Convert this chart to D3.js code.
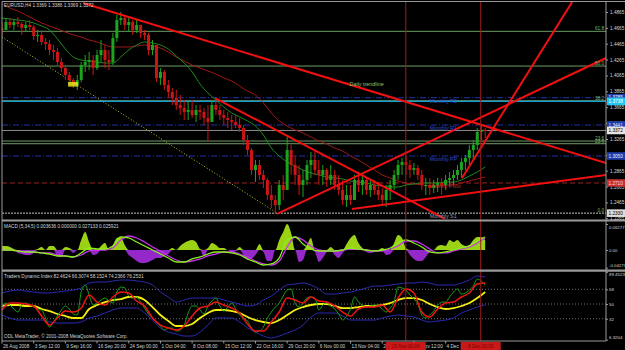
<!DOCTYPE html>
<html>
<head>
<meta charset="utf-8">
<script src="https://cdnjs.cloudflare.com/ajax/libs/d3/7.8.5/d3.min.js"></script>
<style>
  body { margin: 0; background: #000; }
  svg text { font-family: "Liberation Sans", Arial, sans-serif; font-size: 4.7px; }
</style>
</head>
<body>
<svg id="chart" width="625" height="350"></svg>
<script>
// ---- data ----
const symbolTitle = "EURUSD,H4 1.3369 1.3386 1.3369 1.3372";
const macdTitle = "MACD (5,34,5) 0.003636 0.000000 0.027133 0.025921";
const tdiTitle = "Traders Dynamic Index 82.4624 66.3074 58.1524 74.2366 76.2531";
const copyright = "ODL MetaTrader, \u00a9 2001-2008 MetaQuotes Software Corp.";

// time axis (H4 bar numbers)
const timeBars = [0, 32, 64, 96, 128, 160, 192, 224, 256, 288, 320, 352, 384, 416, 448];
const timeLabels = ["26 Aug 2008", "3 Sep 12:00", "9 Sep 16:00", "16 Sep 20:00", "24 Sep 00:00",
  "1 Oct 04:00", "8 Oct 08:00", "15 Oct 12:00", "22 Oct 16:00", "29 Oct 20:00",
  "6 Nov 00:00", "13 Nov 04:00", "20 Nov 08:00", "27 Nov 12:00", "4 Dec 16:00"];
const cursorBars = [407.8, 483.5];
const cursorLabels = ["25 Nov 00:00", "8 Dec 00:00"];

// price candles, one every 4 bars
const candleStep = 4;
const firstOpen = 1.4660;
const candleHigh = [1.4739,1.4789,1.4789,1.4764,1.4802,1.4739,1.4739,1.4764,1.4701,1.4638,
  1.4638,1.4537,1.4512,1.4449,1.4411,1.4285,1.4197,1.4109,1.4033,1.4071,
  1.4235,1.4323,1.4361,1.4323,1.4386,1.4512,1.4449,1.4386,1.4600,1.4827,
  1.4865,1.4827,1.4789,1.4764,1.4764,1.4701,1.4638,1.4600,1.4512,1.4323,
  1.4159,1.4134,1.4008,1.3907,1.3882,1.3819,1.3756,1.3731,1.3756,1.3693,
  1.3693,1.3655,1.3693,1.3756,1.3756,1.3693,1.3630,1.3605,1.3567,1.3567,
  1.3529,1.3441,1.3315,1.3151,1.3000,1.3000,1.2874,1.2773,1.2685,1.2559,
  1.2748,1.2811,1.3290,1.3189,1.3063,1.2937,1.2874,1.3000,1.3101,1.3126,
  1.3000,1.2937,1.2899,1.2937,1.2874,1.2811,1.2748,1.2685,1.2685,1.2811,
  1.2849,1.2811,1.2773,1.2748,1.2748,1.2723,1.2647,1.2685,1.2748,1.2874,
  1.3000,1.3025,1.3063,1.3000,1.2962,1.2937,1.2874,1.2773,1.2773,1.2748,
  1.2773,1.2773,1.2811,1.2849,1.2874,1.2937,1.3025,1.3063,1.3189,1.3252,
  1.3403,1.3441,1.3403];
const candleLow = [1.4575,1.4638,1.4663,1.4638,1.4676,1.4575,1.4613,1.4638,1.4512,1.4487,
  1.4449,1.4386,1.4323,1.4260,1.4197,1.4109,1.4008,1.3945,1.3907,1.3882,
  1.3983,1.4109,1.4134,1.4071,1.4134,1.4235,1.4159,1.4134,1.4197,1.4487,
  1.4701,1.4638,1.4613,1.4575,1.4600,1.4537,1.4512,1.4323,1.4323,1.3983,
  1.3945,1.3882,1.3781,1.3693,1.3630,1.3567,1.3504,1.3504,1.3529,1.3479,
  1.3504,1.3441,1.3227,1.3529,1.3567,1.3504,1.3441,1.3403,1.3378,1.3403,
  1.3353,1.3189,1.3063,1.2811,1.2723,1.2748,1.2647,1.2496,1.2395,1.2320,
  1.2370,1.2496,1.2685,1.2811,1.2685,1.2559,1.2534,1.2685,1.2773,1.2811,
  1.2685,1.2685,1.2660,1.2685,1.2622,1.2559,1.2433,1.2408,1.2433,1.2496,
  1.2597,1.2559,1.2559,1.2534,1.2559,1.2496,1.2433,1.2408,1.2496,1.2622,
  1.2748,1.2811,1.2811,1.2773,1.2811,1.2748,1.2622,1.2559,1.2559,1.2584,
  1.2597,1.2559,1.2622,1.2660,1.2685,1.2748,1.2773,1.2874,1.2937,1.3000,
  1.3126,1.3252,1.3277];
const candleClose = [1.4638,1.4739,1.4701,1.4739,1.4714,1.4663,1.4701,1.4676,1.4562,1.4575,
  1.4487,1.4462,1.4386,1.4361,1.4235,1.4159,1.4071,1.4008,1.3945,1.4008,
  1.4197,1.4235,1.4260,1.4159,1.4323,1.4386,1.4260,1.4235,1.4537,1.4764,
  1.4789,1.4701,1.4739,1.4638,1.4701,1.4600,1.4575,1.4386,1.4449,1.4033,
  1.4109,1.3945,1.3857,1.3781,1.3693,1.3655,1.3605,1.3630,1.3567,1.3630,
  1.3605,1.3529,1.3479,1.3693,1.3630,1.3567,1.3529,1.3504,1.3479,1.3441,
  1.3403,1.3252,1.3126,1.2874,1.2937,1.2811,1.2748,1.2559,1.2496,1.2433,
  1.2685,1.2622,1.3126,1.2937,1.2811,1.2685,1.2748,1.2937,1.3000,1.2874,
  1.2811,1.2874,1.2748,1.2811,1.2685,1.2622,1.2496,1.2559,1.2496,1.2748,
  1.2685,1.2748,1.2622,1.2685,1.2622,1.2559,1.2496,1.2622,1.2685,1.2811,
  1.2937,1.2975,1.2937,1.2874,1.2899,1.2811,1.2685,1.2685,1.2647,1.2685,
  1.2710,1.2685,1.2748,1.2773,1.2811,1.2874,1.2975,1.3025,1.3126,1.3189,
  1.3353,1.3378,1.3372];

// smooth indicator lines, one point every 8 bars
const lineStep = 8;
const maFast = [1.4789,1.4777,1.4764,1.4751,1.4726,1.4688,1.4638,1.4525,1.4399,1.4298,
  1.4260,1.4247,1.4235,1.4222,1.4222,1.4298,1.4386,1.4449,1.4487,1.4474,
  1.4449,1.4399,1.4310,1.4222,1.4109,1.3957,1.3844,1.3756,1.3668,1.3592,
  1.3542,1.3491,1.3428,1.3315,1.3151,1.3050,1.2975,1.2924,1.2874,1.2836,
  1.2811,1.2786,1.2773,1.2761,1.2735,1.2723,1.2710,1.2685,1.2672,1.2660,
  1.2660,1.2685,1.2698,1.2710,1.2710,1.2710,1.2723,1.2723,1.2748,1.2798,
  1.2849,1.2912];
const maSlow = [1.4966,1.4915,1.4877,1.4827,1.4777,1.4726,1.4688,1.4651,1.4613,1.4575,
  1.4550,1.4512,1.4487,1.4449,1.4424,1.4424,1.4424,1.4436,1.4449,1.4436,
  1.4411,1.4361,1.4298,1.4247,1.4197,1.4159,1.4121,1.4084,1.4033,1.3995,
  1.3932,1.3869,1.3819,1.3718,1.3592,1.3491,1.3428,1.3378,1.3340,1.3290,
  1.3239,1.3202,1.3151,1.3113,1.3050,1.3000,1.2937,1.2874,1.2811,1.2773,
  1.2735,1.2710,1.2698,1.2685,1.2672,1.2672,1.2685,1.2685,1.2710,1.2735,
  1.2761,1.2786];

// drawn objects: [bar, price] end points
const trendLines = [
  [[81.8, 1.4978], [610, 1.2962]],
  [[215.2, 1.3781], [447.5, 1.2257]],
  [[277.8, 1.2320], [610, 1.4285]],
  [[464.6, 1.2773], [575.8, 1.4991]],
  [[353.5, 1.2383], [610, 1.2811]]
];
const trendLabel = "Daily trendline";
const trendLabelAt = [351, 1.3935];
const dottedLine = [[0, 1.4550], [277.8, 1.2332]];
const markBars = [66.7, 76.8];
const markPrices = [1.3983, 1.3925];

// fibonacci retracement
const fibLow = 1.2330, fibHigh = 1.6038;
const fibLevels = [0, 23.6, 38.2, 50, 61.8];
const extraFibPrice = 1.3239;

// pivot levels
const pivotNames = ["Monthly R2", "Monthly R1", "Monthly PP"];
const pivotPrices = [1.3785, 1.3441, 1.3050];
const pivotS1Name = "Monthly S1";
const pivotS1Price = 1.2300;
const weeklyPivotName = "Weekly Pivot";
const weeklyPivotPrice = 1.2710;
const cyanLevel = 1.3738;
const bidPrice = 1.3372;

const priceTicks = [1.4865, 1.4665, 1.4465, 1.4265, 1.4065, 1.3865, 1.3665, 1.3465, 1.3265,
  1.3065, 1.2865, 1.2665, 1.2465, 1.2265];

// MACD
const macdHist = [0.0097,0.0097,0.0072,0.0024,-0.0072,-0.0097,-0.0121,-0.0121,-0.0072,0.0024,
  0.0072,0,0.0097,0.0097,-0.0145,-0.0169,0.0072,0.0048,-0.0072,0,
  0.0242,0.0435,0.0193,-0.0121,-0.0097,0.0097,0.0169,0,0.0121,0.0290,
  0.0314,0.0121,-0.0121,-0.0193,-0.0266,-0.0314,-0.0314,-0.0290,-0.0242,-0.0193,
  -0.0193,-0.0145,-0.0097,0.0048,0,0.0097,0.0169,0.0217,0.0242,0.0193,
  0.0024,-0.0169,0.0048,0.0169,0.0121,0.0048,0.0048,0,-0.0072,-0.0024,
  0.0072,-0.0121,-0.0242,-0.0217,-0.0121,0.0145,-0.0048,-0.0266,-0.0266,0,
  0.0242,0.0435,0.0628,0.0411,0,-0.0290,-0.0242,0.0121,0.0290,-0.0048,
  -0.0290,-0.0193,-0.0048,0.0072,-0.0121,-0.0193,-0.0072,0.0145,0.0290,0.0362,
  0.0169,0.0048,-0.0048,-0.0072,-0.0048,0,0.0048,-0.0121,-0.0097,0.0169,
  0.0362,0.0290,0.0048,-0.0121,-0.0217,-0.0266,-0.0266,-0.0169,-0.0048,0,
  0.0097,0.0121,0.0097,0.0242,0.0193,0.0242,0.0145,0.0097,0.0121,0.0242,
  0.0314,0.0314,0.0242];
const macdMain = [0,0,-0.0024,-0.0048,-0.0048,-0.0072,-0.0097,-0.0145,-0.0145,-0.0169,
  -0.0072,0.0048,0.0024,0.0024,0.0097,0.0314,0.0290,0.0193,0.0097,0,
  -0.0097,-0.0193,-0.0290,-0.0290,-0.0217,-0.0169,-0.0097,-0.0048,-0.0048,-0.0072,
  -0.0121,-0.0217,-0.0290,-0.0362,-0.0338,-0.0193,0.0242,0.0314,0.0145,0.0024,
  -0.0024,-0.0024,-0.0024,0,0.0048,0.0024,0,-0.0024,0,0.0048,
  0.0169,0.0242,0.0169,0.0072,-0.0048,-0.0072,-0.0048,0,0.0048,0.0097,
  0.0217,0.0314];
const macdSignal = [0,0,-0.0024,-0.0048,-0.0048,-0.0072,-0.0072,-0.0121,-0.0145,-0.0169,
  -0.0121,-0.0024,0,0,0.0048,0.0242,0.0338,0.0290,0.0193,0.0072,
  -0.0024,-0.0145,-0.0242,-0.0290,-0.0266,-0.0217,-0.0145,-0.0097,-0.0048,-0.0048,
  -0.0097,-0.0169,-0.0266,-0.0338,-0.0362,-0.0266,0.0072,0.0314,0.0242,0.0097,
  0,-0.0024,-0.0024,0,0.0024,0.0024,0,-0.0024,-0.0024,0.0024,
  0.0097,0.0217,0.0217,0.0145,0.0024,-0.0072,-0.0072,-0.0024,0.0024,0.0072,
  0.0169,0.0290];
const macdTicks = [0.06277, 0, -0.04277];
const macdTickLabels = ["0.06277", "0.00", "-0.04277"];

// Traders Dynamic Index
const tdiRsi = [47.6,51.2,48.8,43.9,40.2,48.8,51.2,48.8,46.3,43.9,
  42.7,32.9,21.8,28.0,35.3,42.7,47.6,43.9,37.8,36.5,
  64.7,73.3,61.0,48.8,51.2,54.9,57.3,53.7,51.2,64.7,
  70.8,69.6,59.8,57.3,58.6,52.4,45.1,37.8,32.9,28.0,
  23.1,18.2,20.6,20.6,16.9,18.2,24.3,39.0,47.6,47.6,
  42.7,37.8,47.6,53.7,57.3,47.6,41.4,46.3,51.2,43.9,
  36.5,32.9,29.2,20.6,15.7,16.9,21.8,32.9,40.2,46.3,
  51.2,59.8,67.1,68.4,51.2,46.3,51.2,57.3,58.6,57.3,
  42.7,48.8,51.2,47.6,43.9,37.8,30.4,35.3,43.9,58.6,
  52.4,48.8,46.3,47.6,48.8,47.6,43.9,40.2,45.1,52.4,
  70.8,69.6,67.1,61.0,56.1,50.0,36.5,32.9,36.5,41.4,
  48.8,52.4,52.4,58.6,64.7,68.4,62.2,63.5,67.1,72.0,
  80.6,78.2,73.3];
const tdiSignal = [42.7,51.2,51.2,50.0,47.6,35.3,24.3,32.9,41.4,40.2,
  45.1,61.0,52.4,48.8,58.6,64.7,63.5,53.7,47.6,32.9,
  24.3,20.6,18.2,23.1,35.3,45.1,47.6,52.4,48.8,45.1,
  39.0,25.5,16.9,16.9,28.0,40.2,57.3,54.9,51.2,58.6,
  53.7,52.4,47.6,40.2,35.3,43.9,46.3,46.3,48.8,40.2,
  57.3,68.4,63.5,40.2,34.1,43.9,51.2,52.4,58.6,63.5,
  74.5,75.7];
const tdiBase = [47.6,48.8,48.8,47.6,47.6,43.9,41.4,37.8,35.3,32.9,
  32.9,43.9,48.8,52.4,54.9,56.1,58.6,58.6,54.9,46.3,
  36.5,29.2,23.1,23.1,25.5,32.9,39.0,42.7,42.7,41.4,
  39.0,34.1,30.4,28.0,26.7,30.4,36.5,42.7,46.3,48.8,
  50.0,50.0,47.6,45.1,45.1,46.3,47.6,47.6,48.8,51.2,
  54.9,57.3,57.3,54.9,50.0,46.3,43.9,45.1,47.6,51.2,
  57.3,64.7];
const tdiUpper = [63.5,65.9,67.1,65.9,64.7,63.5,63.5,64.7,65.9,67.1,
  69.6,75.7,76.9,76.9,78.2,79.4,79.4,78.2,76.9,73.3,
  64.7,58.6,52.4,54.9,57.3,57.3,57.3,57.3,54.9,52.4,
  50.0,47.6,48.8,54.9,59.8,67.1,73.3,74.5,75.7,73.3,
  68.4,62.2,62.2,63.5,64.7,67.1,69.6,72.0,72.0,73.3,
  74.5,75.7,75.7,76.9,75.7,73.3,73.3,73.3,75.7,79.4,
  84.3,83.1];
const tdiLower = [36.5,32.9,30.4,30.4,30.4,30.4,28.0,26.7,26.7,26.7,
  28.0,32.9,35.3,39.0,42.7,45.1,45.1,45.1,39.0,30.4,
  20.6,15.7,13.3,10.8,10.8,15.7,24.3,32.9,32.9,32.9,
  28.0,20.6,15.7,10.8,8.4,10.8,14.5,18.2,24.3,34.1,
  39.0,39.0,39.0,35.3,30.4,30.4,30.4,30.4,32.9,35.3,
  36.5,35.3,34.1,30.4,28.0,29.2,30.4,32.9,39.0,42.7,
  46.3,48.8];
const tdiLevels = [68, 50, 32];
const tdiTicks = [89.4523, 68, 50, 32, 6.3204];
const tdiTickLabels = ["89.4523", "68", "50", "32", "6.3204"];

// ---- layout ----
const svg = d3.select("#chart");
const plotL = 2, plotR = 606;
const mainTop = 2, mainBottom = 219;
const macdTop = 222, macdBottom = 269.5;
const tdiTop = 272, tdiBottom = 341;

const x = d3.scaleLinear().domain([0, 610]).range([plotL, plotR]);
const yMain = d3.scaleLinear().domain([1.2265, 1.4865]).range([218.3, 12]);
const yMacd = d3.scaleLinear().domain([-0.04277, 0.06277]).range([267.7, 224]);
const yTdi = d3.scaleLinear().domain([6.3204, 89.4523]).range([339.7, 271.8]);

const axisColor = "#9a9a9a";
const textColor = "#d4d4d4";
const upColor = "#1ca51c";
const downColor = "#cc1515";
const trendColor = "#f01010";

svg.append("rect").attr("width", 625).attr("height", 350).attr("fill", "#000");

const defs = svg.append("defs");
function clip(id, top, bottom) {
  defs.append("clipPath").attr("id", id)
    .append("rect").attr("x", plotL).attr("y", top)
    .attr("width", plotR - plotL).attr("height", bottom - top);
}
clip("clip-main", mainTop, mainBottom);
clip("clip-macd", macdTop, macdBottom);
clip("clip-tdi", tdiTop, tdiBottom);

// ---- main price window ----
const gMain = svg.append("g").attr("clip-path", "url(#clip-main)");

function hLine(g, price, color, width, dash) {
  g.append("line")
    .attr("x1", plotL).attr("x2", plotR)
    .attr("y1", yMain(price)).attr("y2", yMain(price))
    .attr("stroke", color).attr("stroke-width", width)
    .attr("stroke-dasharray", dash || null);
}

const fibPrices = fibLevels.map((l) => fibLow + (fibHigh - fibLow) * l / 100);
fibPrices.forEach((p, i) => {
  if (i === 0) hLine(gMain, p, "#b8c8b8", 1, "2,1");
  else hLine(gMain, p, "#6c9c64", 1);
});
hLine(gMain, extraFibPrice, "#6c9c64", 1);
pivotPrices.forEach((p) => hLine(gMain, p, "#2233a8", 1, "6,2,1,2"));
hLine(gMain, weeklyPivotPrice, "#9a2424", 1, "5,3");
hLine(gMain, cyanLevel, "#12a0d4", 1.4);
hLine(gMain, bidPrice, "#8c8c8c", 1);

// yellow dotted channel line and marks
gMain.append("line")
  .attr("x1", x(dottedLine[0][0])).attr("y1", yMain(dottedLine[0][1]))
  .attr("x2", x(dottedLine[1][0])).attr("y2", yMain(dottedLine[1][1]))
  .attr("stroke", "#c4c428").attr("stroke-width", 1).attr("stroke-dasharray", "1,2");

// moving averages
const maLine = d3.line()
  .x((d, i) => x(i * lineStep))
  .y((d) => yMain(d))
  .curve(d3.curveMonotoneX);
gMain.append("path").attr("d", maLine(maSlow))
  .attr("fill", "none").attr("stroke", "#a01818").attr("stroke-width", 1);
gMain.append("path").attr("d", maLine(maFast))
  .attr("fill", "none").attr("stroke", "#1f8a1f").attr("stroke-width", 1);

// candles
const candles = candleClose.map((c, i) => ({
  bar: i * candleStep,
  open: i ? candleClose[i - 1] : firstOpen,
  high: candleHigh[i],
  low: candleLow[i],
  close: c,
}));
gMain.selectAll("line.wick")
  .data(candles)
  .join("line")
  .attr("class", "wick")
  .attr("x1", (d) => x(d.bar)).attr("x2", (d) => x(d.bar))
  .attr("y1", (d) => yMain(d.high)).attr("y2", (d) => yMain(d.low))
  .attr("stroke", (d) => (d.close >= d.open ? upColor : downColor))
  .attr("stroke-width", 1);
gMain.selectAll("rect.body")
  .data(candles)
  .join("rect")
  .attr("class", "body")
  .attr("x", (d) => x(d.bar) - 1.5)
  .attr("width", 3)
  .attr("y", (d) => yMain(Math.max(d.open, d.close)))
  .attr("height", (d) => Math.max(1, Math.abs(yMain(d.open) - yMain(d.close))))
  .attr("fill", (d) => (d.close >= d.open ? upColor : downColor));

gMain.append("rect")
  .attr("x", x(markBars[0])).attr("width", x(markBars[1]) - x(markBars[0]))
  .attr("y", yMain(markPrices[0])).attr("height", yMain(markPrices[1]) - yMain(markPrices[0]))
  .attr("fill", "#e8e820").attr("opacity", 0.85);

// trend lines
gMain.selectAll("line.trend")
  .data(trendLines)
  .join("line")
  .attr("class", "trend")
  .attr("x1", (d) => x(d[0][0])).attr("y1", (d) => yMain(d[0][1]))
  .attr("x2", (d) => x(d[1][0])).attr("y2", (d) => yMain(d[1][1]))
  .attr("stroke", trendColor).attr("stroke-width", 2);

gMain.append("text")
  .attr("x", x(trendLabelAt[0])).attr("y", yMain(trendLabelAt[1]))
  .attr("fill", "#8cc46c").style("font-size", "5.4px")
  .text(trendLabel);

// pivot labels
const pivotLabelBar = 432;
pivotNames.forEach((n, i) => {
  svg.append("text")
    .attr("x", x(pivotLabelBar)).attr("y", yMain(pivotPrices[i]) + 5)
    .attr("fill", "#2c4cc8").style("font-size", "5.4px").text(n);
});
svg.append("text")
  .attr("x", x(pivotLabelBar)).attr("y", yMain(weeklyPivotPrice) + 5)
  .attr("fill", "#b03030").style("font-size", "5.4px").text(weeklyPivotName);
svg.append("text")
  .attr("x", x(pivotLabelBar)).attr("y", yMain(pivotS1Price) + 2)
  .attr("fill", "#9a9aa8").style("font-size", "5.4px").text(pivotS1Name);

// fib labels
fibPrices.forEach((p, i) => {
  svg.append("text")
    .attr("x", plotR - 2).attr("y", yMain(p) - 1)
    .attr("text-anchor", "end").attr("fill", "#7cb46c")
    .text(fibLevels[i].toFixed(1));
});
svg.append("text")
  .attr("x", plotR - 2).attr("y", yMain(extraFibPrice) - 1)
  .attr("text-anchor", "end").attr("fill", "#7cb46c").text("23.6");

svg.append("text").attr("x", 4).attr("y", 7).attr("fill", textColor).text(symbolTitle);

// ---- MACD window ----
const gMacd = svg.append("g").attr("clip-path", "url(#clip-macd)");
const histArea = (sign) => d3.area()
  .x((d, i) => x(i * candleStep))
  .y0(yMacd(0))
  .y1((d) => yMacd(sign > 0 ? Math.max(d, 0) : Math.min(d, 0)))
  .curve(d3.curveMonotoneX);
gMacd.append("path").attr("d", histArea(1)(macdHist)).attr("fill", "#9cd214");
gMacd.append("path").attr("d", histArea(-1)(macdHist)).attr("fill", "#9428c8");
const macdLine = d3.line()
  .x((d, i) => x(i * lineStep))
  .y((d) => yMacd(d))
  .curve(d3.curveMonotoneX);
gMacd.append("path").attr("d", macdLine(macdSignal))
  .attr("fill", "none").attr("stroke", "#c832f0").attr("stroke-width", 1.3);
gMacd.append("path").attr("d", macdLine(macdMain))
  .attr("fill", "none").attr("stroke", "#8af01a").attr("stroke-width", 1.3);
svg.append("text").attr("x", 4).attr("y", 228).attr("fill", textColor).text(macdTitle);

// ---- TDI window ----
const gTdi = svg.append("g").attr("clip-path", "url(#clip-tdi)");
tdiLevels.forEach((l) => {
  gTdi.append("line")
    .attr("x1", plotL).attr("x2", plotR)
    .attr("y1", yTdi(l)).attr("y2", yTdi(l))
    .attr("stroke", "#707070").attr("stroke-dasharray", "1,2");
});
const tdiSmooth = d3.line()
  .x((d, i) => x(i * lineStep))
  .y((d) => yTdi(d))
  .curve(d3.curveMonotoneX);
const tdiFast = d3.line()
  .x((d, i) => x(i * candleStep))
  .y((d) => yTdi(d))
  .curve(d3.curveMonotoneX);
[tdiUpper, tdiLower].forEach((band) => {
  gTdi.append("path").attr("d", tdiSmooth(band))
    .attr("fill", "none").attr("stroke", "#2b2bb4").attr("stroke-width", 1);
});
gTdi.append("path").attr("d", tdiSmooth(tdiBase))
  .attr("fill", "none").attr("stroke", "#f4ee10").attr("stroke-width", 1.8);
gTdi.append("path").attr("d", tdiFast(tdiRsi))
  .attr("fill", "none").attr("stroke", "#16a016").attr("stroke-width", 1);
gTdi.append("path").attr("d", tdiSmooth(tdiSignal))
  .attr("fill", "none").attr("stroke", "#f01414").attr("stroke-width", 1.5);
svg.append("text").attr("x", 4).attr("y", 278).attr("fill", textColor).text(tdiTitle);
svg.append("text").attr("x", 4).attr("y", 338).attr("fill", textColor).text(copyright);

// ---- cursor lines ----
cursorBars.forEach((b) => {
  svg.append("line")
    .attr("x1", x(b)).attr("x2", x(b))
    .attr("y1", mainTop).attr("y2", tdiBottom)
    .attr("stroke", "#a01c1c").attr("stroke-width", 1);
});

// ---- frames and separators ----
const frame = svg.append("g").attr("stroke", axisColor).attr("fill", "none");
frame.append("line").attr("x1", plotL).attr("x2", 625).attr("y1", 1.5).attr("y2", 1.5);
frame.append("line").attr("x1", plotL).attr("x2", plotL).attr("y1", 1.5).attr("y2", tdiBottom);
frame.append("line").attr("x1", plotR).attr("x2", plotR).attr("y1", 1.5).attr("y2", tdiBottom);
frame.append("line").attr("x1", plotL).attr("x2", 625).attr("y1", 220.5).attr("y2", 220.5).attr("stroke-width", 2.2);
frame.append("line").attr("x1", plotL).attr("x2", 625).attr("y1", 270.7).attr("y2", 270.7).attr("stroke-width", 2.2);
frame.append("line").attr("x1", plotL).attr("x2", plotR).attr("y1", tdiBottom).attr("y2", tdiBottom);

// ---- price axes ----
function styleAxis(g, size) {
  g.select(".domain").remove();
  g.selectAll(".tick line").attr("stroke", axisColor);
  g.selectAll(".tick text").attr("fill", textColor)
    .style("font-family", "Liberation Sans, Arial, sans-serif").style("font-size", size || "4.7px");
}
svg.append("g").attr("transform", `translate(${plotR},0)`)
  .call(d3.axisRight(yMain).tickValues(priceTicks).tickSize(2).tickPadding(2).tickFormat(d3.format(".4f")))
  .call(styleAxis);
// the outer labels of the lower windows sit just inside their window
svg.append("g").attr("transform", `translate(${plotR},0)`)
  .call(d3.axisRight(yMacd).tickValues(macdTicks).tickSize(2).tickPadding(1)
    .tickFormat((d, i) => macdTickLabels[i]))
  .call(styleAxis, "4.3px")
  .call((g) => g.selectAll(".tick text").attr("dy", (d, i) => (i === 0 ? "1.0em" : i === 2 ? "-0.3em" : "0.32em")));
svg.append("g").attr("transform", `translate(${plotR},0)`)
  .call(d3.axisRight(yTdi).tickValues(tdiTicks).tickSize(2).tickPadding(1)
    .tickFormat((d, i) => tdiTickLabels[i]))
  .call(styleAxis, "4.4px")
  .call((g) => g.selectAll(".tick text").attr("dy", (d, i) => (i === 0 ? "0.9em" : i === 4 ? "-0.3em" : "0.32em")));

// price tags on the axis
const tags = [
  { p: pivotPrices[0], fill: "#1f3caa", color: "#e8e8ff" },
  { p: cyanLevel, fill: "#20c8f0", color: "#ffffff" },
  { p: pivotPrices[1], fill: "#1f3caa", color: "#e8e8ff" },
  { p: bidPrice, fill: "#e4e4e4", color: "#000" },
  { p: pivotPrices[2], fill: "#1f3caa", color: "#e8e8ff" },
  { p: weeklyPivotPrice, fill: "#c43030", color: "#ffd8d8" },
  { p: fibLow, fill: "#dcdcdc", color: "#000" },
];
tags.forEach((t) => {
  const yy = yMain(t.p);
  svg.append("rect").attr("x", plotR + 1).attr("y", yy - 3.8).attr("width", 18).attr("height", 7.6)
    .attr("fill", t.fill);
  svg.append("text").attr("x", plotR + 2.5).attr("y", yy + 1.8).attr("fill", t.color).text(t.p.toFixed(4));
});

// ---- time axis ----
svg.selectAll("line.tt")
  .data(timeBars)
  .join("line")
  .attr("class", "tt")
  .attr("x1", (d) => x(d)).attr("x2", (d) => x(d))
  .attr("y1", tdiBottom).attr("y2", tdiBottom + 2.5)
  .attr("stroke", axisColor);
svg.selectAll("text.tl")
  .data(timeBars)
  .join("text")
  .attr("class", "tl")
  .attr("x", (d) => x(d) + 1)
  .attr("y", 347.5)
  .attr("fill", textColor)
  .text((d, i) => timeLabels[i]);
cursorBars.forEach((b, i) => {
  svg.append("rect").attr("x", x(b) - 20).attr("y", 342).attr("width", 40).attr("height", 8)
    .attr("fill", "#c81818");
  svg.append("text").attr("x", x(b)).attr("y", 347.8).attr("text-anchor", "middle")
    .attr("fill", "#7a0606").text(cursorLabels[i]);
});
</script>
</body>
</html>
